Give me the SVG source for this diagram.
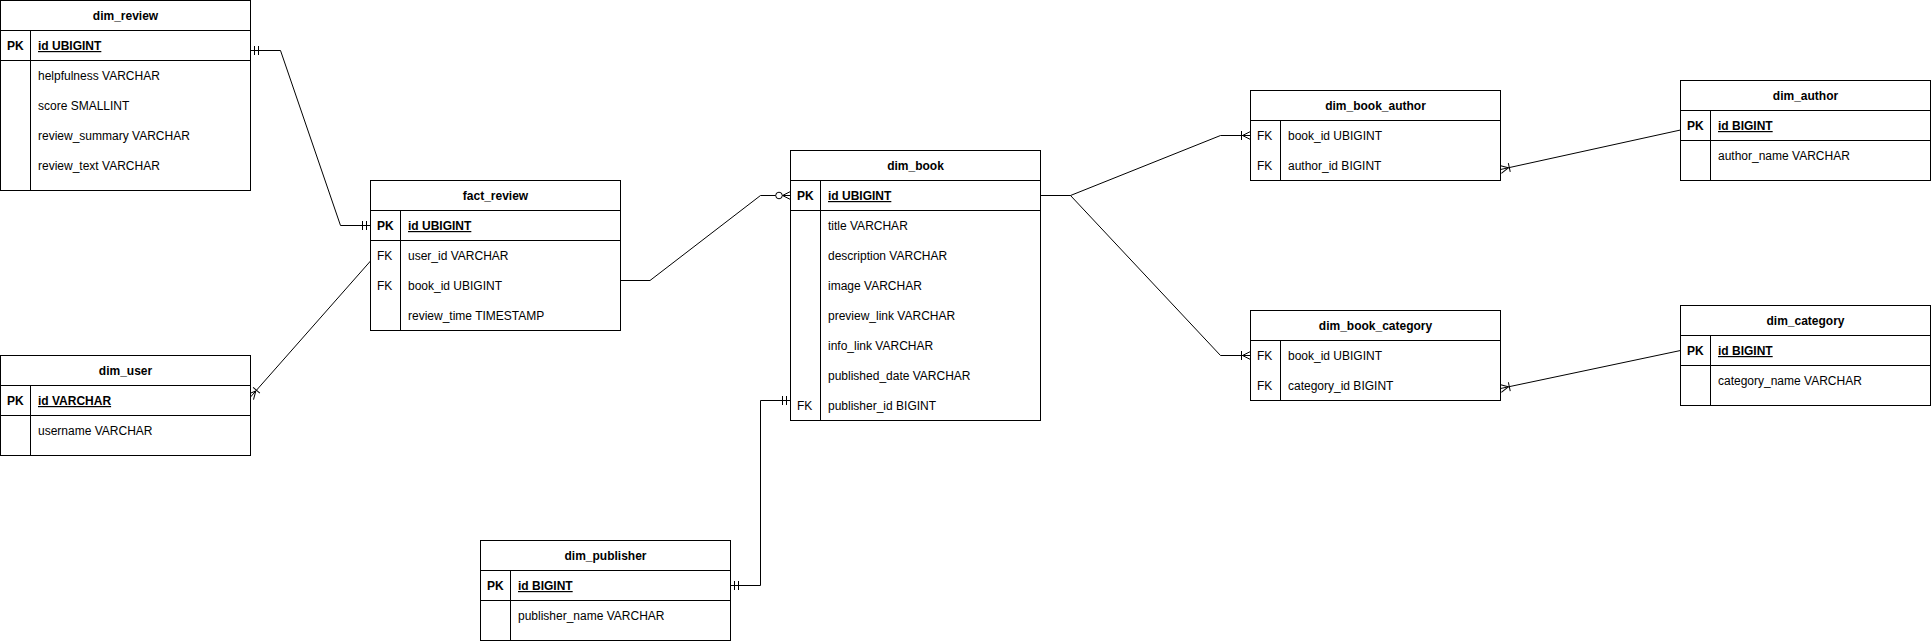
<svg xmlns="http://www.w3.org/2000/svg" width="1932" height="643" viewBox="0 0 1932 643">
<style>
  text { font-family: "Liberation Sans", Arial, Helvetica, sans-serif; font-size: 12px; fill: #000; }
  .title { font-weight: bold; text-anchor: middle; }
  .pk { font-weight: bold; }
  .pkf { font-weight: bold; text-decoration: underline; }
  .box { fill: #fff; stroke: #000; stroke-width: 1; }
  .ln { fill: none; stroke: #000; stroke-width: 1; }
  .edge { fill: none; stroke: #000; stroke-width: 1; }
  .mk { fill: none; stroke: #000; stroke-width: 1; }
</style>
<defs>
  <marker id="mandOne" markerUnits="userSpaceOnUse" viewBox="-14 -7 16 14" refX="0" refY="0" markerWidth="16" markerHeight="14" orient="auto-start-reverse" overflow="visible">
    <path class="mk" d="M-4,-4.5 V4.5 M-8,-4.5 V4.5"/>
  </marker>
  <marker id="oneMany" markerUnits="userSpaceOnUse" viewBox="-14 -7 16 14" refX="0" refY="0" markerWidth="16" markerHeight="14" orient="auto-start-reverse" overflow="visible">
    <path class="mk" d="M-9,-4.5 V4.5 M-8,0 L0,-4 M-8,0 L0,4"/>
  </marker>
  <marker id="zeroMany" markerUnits="userSpaceOnUse" viewBox="-18 -7 20 14" refX="0" refY="0" markerWidth="20" markerHeight="14" orient="auto-start-reverse" overflow="visible">
    <path class="mk" d="M-8,0 L0,-4 M-8,0 L0,4"/>
    <circle cx="-11.5" cy="0" r="3.3" fill="#fff" stroke="#000" stroke-width="1"/>
  </marker>
</defs>

<g id="connectors">
  <path class="edge" d="M250.5,50.5 H280.5 L340.5,225.5 H370.5" marker-start="url(#mandOne)" marker-end="url(#mandOne)"/>
  <path class="edge" d="M370.5,261 L250.5,397" marker-end="url(#oneMany)"/>
  <path class="edge" d="M620.5,280.5 H650 L760.5,195.5 H790.5" marker-end="url(#zeroMany)"/>
  <path class="edge" d="M730.5,585.5 H760.5 V400.5 H790.5" marker-start="url(#mandOne)" marker-end="url(#mandOne)"/>
  <path class="edge" d="M1040.5,195.5 H1070.5 L1220.5,135.5 H1250.5" marker-end="url(#oneMany)"/>
  <path class="edge" d="M1040.5,195.5 H1070.5 L1220.5,355.5 H1250.5" marker-end="url(#oneMany)"/>
  <path class="edge" d="M1680.5,130 L1500.5,169.5" marker-end="url(#oneMany)"/>
  <path class="edge" d="M1680.5,350.5 L1500.5,388.5" marker-end="url(#oneMany)"/>
</g>

<g id="dim_review">
  <rect class="box" x="0.5" y="0.5" width="250" height="190"/>
  <path class="ln" d="M0.5,30.5 H250.5 M0.5,60.5 H250.5 M30.5,30.5 V190.5"/>
  <text class="title" x="125.5" y="19.5">dim_review</text>
  <text class="pk" x="7" y="50">PK</text>
  <text class="pkf" x="38" y="50">id UBIGINT</text>
  <text x="38" y="80">helpfulness VARCHAR</text>
  <text x="38" y="110">score SMALLINT</text>
  <text x="38" y="140">review_summary VARCHAR</text>
  <text x="38" y="170">review_text VARCHAR</text>
</g>

<g id="fact_review">
  <rect class="box" x="370.5" y="180.5" width="250" height="150"/>
  <path class="ln" d="M370.5,210.5 H620.5 M370.5,240.5 H620.5 M400.5,210.5 V330.5"/>
  <text class="title" x="495.5" y="199.5">fact_review</text>
  <text class="pk" x="377" y="230">PK</text>
  <text class="pkf" x="408" y="230">id UBIGINT</text>
  <text x="377" y="260">FK</text>
  <text x="408" y="260">user_id VARCHAR</text>
  <text x="377" y="290">FK</text>
  <text x="408" y="290">book_id UBIGINT</text>
  <text x="408" y="320">review_time TIMESTAMP</text>
</g>

<g id="dim_user">
  <rect class="box" x="0.5" y="355.5" width="250" height="100"/>
  <path class="ln" d="M0.5,385.5 H250.5 M0.5,415.5 H250.5 M30.5,385.5 V455.5"/>
  <text class="title" x="125.5" y="374.5">dim_user</text>
  <text class="pk" x="7" y="405">PK</text>
  <text class="pkf" x="38" y="405">id VARCHAR</text>
  <text x="38" y="435">username VARCHAR</text>
</g>

<g id="dim_publisher">
  <rect class="box" x="480.5" y="540.5" width="250" height="100"/>
  <path class="ln" d="M480.5,570.5 H730.5 M480.5,600.5 H730.5 M510.5,570.5 V640.5"/>
  <text class="title" x="605.5" y="559.5">dim_publisher</text>
  <text class="pk" x="487" y="590">PK</text>
  <text class="pkf" x="518" y="590">id BIGINT</text>
  <text x="518" y="620">publisher_name VARCHAR</text>
</g>

<g id="dim_book">
  <rect class="box" x="790.5" y="150.5" width="250" height="270"/>
  <path class="ln" d="M790.5,180.5 H1040.5 M790.5,210.5 H1040.5 M820.5,180.5 V420.5"/>
  <text class="title" x="915.5" y="169.5">dim_book</text>
  <text class="pk" x="797" y="200">PK</text>
  <text class="pkf" x="828" y="200">id UBIGINT</text>
  <text x="828" y="230">title VARCHAR</text>
  <text x="828" y="260">description VARCHAR</text>
  <text x="828" y="290">image VARCHAR</text>
  <text x="828" y="320">preview_link VARCHAR</text>
  <text x="828" y="350">info_link VARCHAR</text>
  <text x="828" y="380">published_date VARCHAR</text>
  <text x="797" y="410">FK</text>
  <text x="828" y="410">publisher_id BIGINT</text>
</g>

<g id="dim_book_author">
  <rect class="box" x="1250.5" y="90.5" width="250" height="90"/>
  <path class="ln" d="M1250.5,120.5 H1500.5 M1280.5,120.5 V180.5"/>
  <text class="title" x="1375.5" y="109.5">dim_book_author</text>
  <text x="1257" y="140">FK</text>
  <text x="1288" y="140">book_id UBIGINT</text>
  <text x="1257" y="170">FK</text>
  <text x="1288" y="170">author_id BIGINT</text>
</g>

<g id="dim_book_category">
  <rect class="box" x="1250.5" y="310.5" width="250" height="90"/>
  <path class="ln" d="M1250.5,340.5 H1500.5 M1280.5,340.5 V400.5"/>
  <text class="title" x="1375.5" y="329.5">dim_book_category</text>
  <text x="1257" y="360">FK</text>
  <text x="1288" y="360">book_id UBIGINT</text>
  <text x="1257" y="390">FK</text>
  <text x="1288" y="390">category_id BIGINT</text>
</g>

<g id="dim_author">
  <rect class="box" x="1680.5" y="80.5" width="250" height="100"/>
  <path class="ln" d="M1680.5,110.5 H1930.5 M1680.5,140.5 H1930.5 M1710.5,110.5 V180.5"/>
  <text class="title" x="1805.5" y="99.5">dim_author</text>
  <text class="pk" x="1687" y="130">PK</text>
  <text class="pkf" x="1718" y="130">id BIGINT</text>
  <text x="1718" y="160">author_name VARCHAR</text>
</g>

<g id="dim_category">
  <rect class="box" x="1680.5" y="305.5" width="250" height="100"/>
  <path class="ln" d="M1680.5,335.5 H1930.5 M1680.5,365.5 H1930.5 M1710.5,335.5 V405.5"/>
  <text class="title" x="1805.5" y="324.5">dim_category</text>
  <text class="pk" x="1687" y="355">PK</text>
  <text class="pkf" x="1718" y="355">id BIGINT</text>
  <text x="1718" y="385">category_name VARCHAR</text>
</g>
</svg>
